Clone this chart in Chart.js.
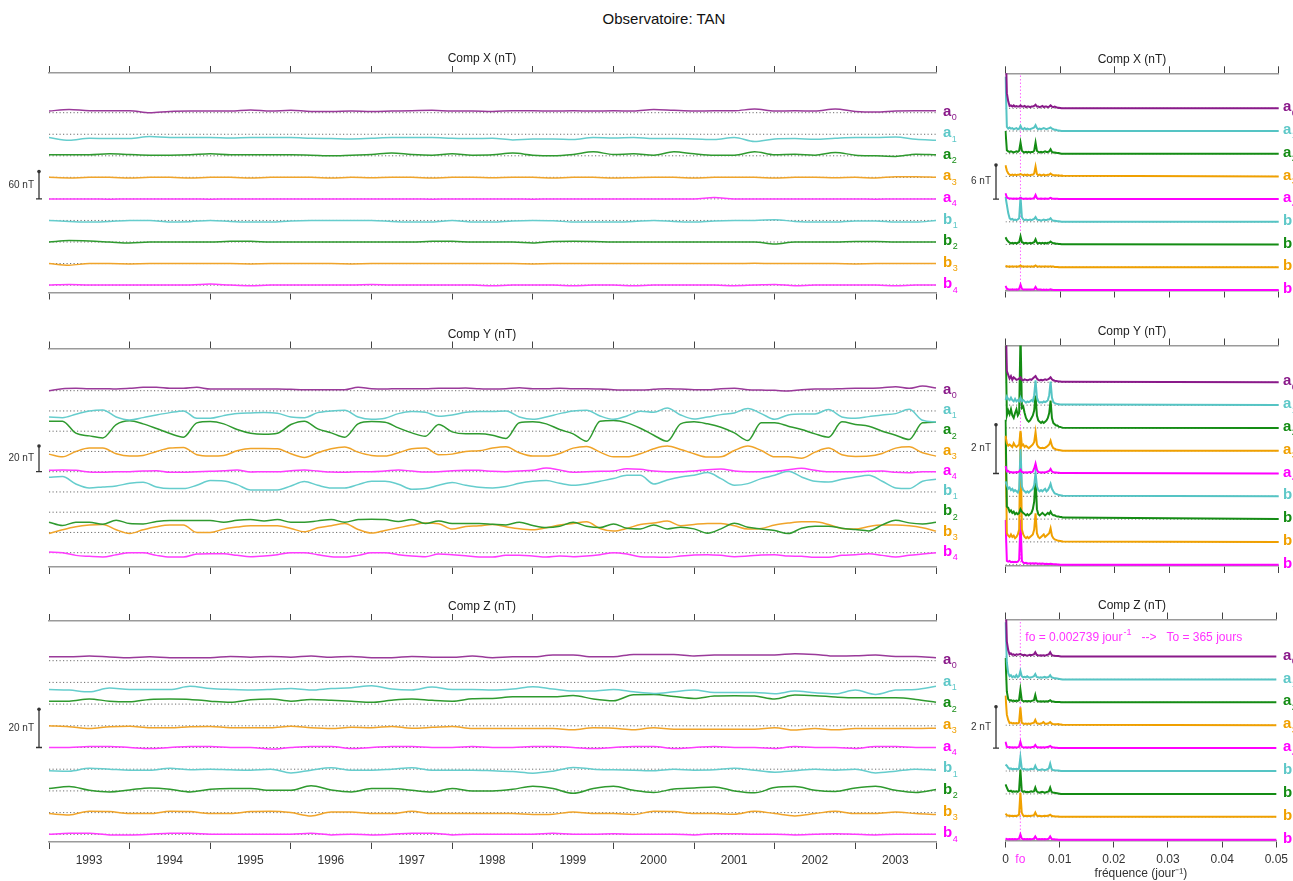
<!DOCTYPE html>
<html>
<head>
<meta charset="utf-8">
<title>Observatoire: TAN</title>
<script src="https://cdn.jsdelivr.net/npm/chart.js@4.4.1/dist/chart.umd.min.js"></script>
<style>
  body { margin: 0; background: #fff; }
  #page { position: relative; width: 1293px; height: 881px; overflow: hidden; }
  #page canvas { position: absolute; left: 0; top: 0; }
  #mainTitle { position: absolute; left: 564px; width: 200px; top: 10px; text-align: center;
    font: 15px "Liberation Sans", Arial, sans-serif; color: #111; }
</style>
</head>
<body>
<div id="page">
  <div id="mainTitle">Observatoire: TAN</div>
  <canvas id="cXt" width="1293" height="881"></canvas>
  <canvas id="cXf" width="1293" height="881"></canvas>
  <canvas id="cYt" width="1293" height="881"></canvas>
  <canvas id="cYf" width="1293" height="881"></canvas>
  <canvas id="cZt" width="1293" height="881"></canvas>
  <canvas id="cZf" width="1293" height="881"></canvas>
</div>
<script>
// ---- time axis (years) and frequency axis (jour^-1) ----
const yearTicks = [1993, 1994, 1995, 1996, 1997, 1998, 1999, 2000, 2001, 2002, 2003, 2004];
const tQ = [1993, 1993.25, 1993.5, 1993.75, 1994, 1994.25, 1994.5, 1994.75, 1995, 1995.25, 1995.5, 1995.75,
  1996, 1996.25, 1996.5, 1996.75, 1997, 1997.25, 1997.5, 1997.75, 1998, 1998.25, 1998.5, 1998.75,
  1999, 1999.25, 1999.5, 1999.75, 2000, 2000.25, 2000.5, 2000.75, 2001, 2001.25, 2001.5, 2001.75,
  2002, 2002.25, 2002.5, 2002.75, 2003, 2003.25, 2003.5, 2003.75, 2004];
const tY = [1993, 1993.167, 1993.333, 1993.5, 1993.667, 1993.833, 1994, 1994.167, 1994.333, 1994.5, 1994.667, 1994.833,
  1995, 1995.167, 1995.333, 1995.5, 1995.667, 1995.833, 1996, 1996.167, 1996.333, 1996.5, 1996.667, 1996.833,
  1997, 1997.167, 1997.333, 1997.5, 1997.667, 1997.833, 1998, 1998.167, 1998.333, 1998.5, 1998.667, 1998.833,
  1999, 1999.167, 1999.333, 1999.5, 1999.667, 1999.833, 2000, 2000.167, 2000.333, 2000.5, 2000.667, 2000.833,
  2001, 2001.167, 2001.333, 2001.5, 2001.667, 2001.833, 2002, 2002.167, 2002.333, 2002.5, 2002.667, 2002.833,
  2003, 2003.167, 2003.333, 2003.5, 2003.667, 2003.833, 2004];
const freqTicks = [0, 0.01, 0.02, 0.03, 0.04, 0.05];
const fo = 0.002739;
const freqs = [0, 0.00025, 0.0005, 0.00075, 0.001, 0.00125, 0.0015, 0.00175, 0.002, 0.00225, 0.0025,
  0.00275, 0.003, 0.00325, 0.0035, 0.00375, 0.004, 0.00425, 0.0045, 0.00475, 0.005, 0.00525,
  0.0055, 0.00575, 0.006, 0.00625, 0.0065, 0.00675, 0.007, 0.00725, 0.0075, 0.00775, 0.008,
  0.00825, 0.0085, 0.00875, 0.009, 0.00925, 0.0095, 0.00975, 0.01, 0.01025, 0.0105, 0.05];

const coefNames = ['a0', 'a1', 'a2', 'a3', 'a4', 'b1', 'b2', 'b3', 'b4'];

// ---- Comp X coefficients (nT), quarterly ----
const compXa0 = [3.5, 7, 4.2, 4.2, 4.2, 0, 2.8, 3.5, 3.5, 3.5, 5.7, 3.5, 5, 2.8, 2.8, 3.5, 2.8, 3.5, 4.2, 5, 3.5, 3.5,
  2.8, 4.2, 4.2, 3.5, 4.2, 3.5, 4.2, 3.5, 7, 5, 3.5, 4.2, 4.2, 7.8, 3.5, 4.2, 3.5, 7.8, 2.8, 1.4, 3.5, 4.2, 4.2];
const compXa1 = [-7, -12.7, -8.5, -9.2, -9.2, -5, -7, -7, -7, -7.8, -7, -7, -7, -8.5, -9.2, -9.9, -8.5, -7, -7, -7, -8.5, -9.2,
  -8.5, -12, -9.9, -9.9, -11.3, -7, -7.8, -7, -9.2, -9.2, -9.9, -11.3, -7, -15.6, -9.9, -9.2, -10.6, -8.5, -7, -7, -5.7, -10.6, -12.7];
const compXa2 = [2.1, 2.1, 2.1, 4.2, 2.8, 1.4, 1.4, 2.1, 4.2, 2.1, 2.1, 2.1, 2.1, 1.4, 0, 1.4, 2.8, 5.7, 2.8, 1.4, 4.2, 1.4,
  2.1, 5.7, 1.4, 0, 2.8, 8.5, 2.8, 4.2, 1.4, 8.5, 4.2, 1.4, 1.4, 8.5, 2.1, 3.5, 1.4, 7, 1.4, 0, -1.4, 3.5, 2.1];
const compXa3 = [0, -1.4, 0, 0, -1.4, 0, 0, -1.4, 0, 0, -1.4, 0, 0, 0, -1.4, 0, -0.7, 0, 0, -1.4, 0, 0,
  -0.7, 0, 0, -1.4, 0, 0, -1.4, -0.7, 0, 0, -1.4, 0, 0, 0, -1.4, 0, 0, -0.7, 0, -1.4, 1.4, 1.4, 0];
const compXa4 = [0, 0, 0, -0.7, 0, 0, 0, 0, -0.7, 0, 0, 0, 0, 0, 0, 0, 0, 0, 0, -0.7, 0, 0,
  0, 0, -0.7, 0, 0, 0, 0, 0, 0, 0, 0, 2.8, 0, 0, 0, 0, 0, 0, 0, -0.7, 0, 0, 0];
const compXb1 = [0, -2, -3.5, -2, 0, 0, -3.5, -2.5, 0, -2, -3.5, -3.5, -1, 0, 0, 0, 0, -2, -3.5, -3.5, 0, -3.5,
  -3.5, -1, 0, -0.5, -3.5, -3.5, -3.5, -2, 0, -2, -3.5, -1, 0, 0, 1.5, -2, -3.5, -3.5, -1, -1, -3.5, -3.5, 0];
const compXb2 = [0, 3, 2, 0, -2, 0, 0, 0, 0, 1.4, 1.4, 0, 0, 0, 0, 0, 0, 0, 0, 1.4, 1.4, 0,
  0, 0, -2, 1, 1.4, 1, 0, 0, 0, 0, 0, 0, 0, 0, -4, 0, 0, 0, 1, 1, 0, 0, 0];
const compXb3 = [0, -3.5, 0, 0, -0.7, 0, 0, 0, 0, 0, -0.7, 0, 0, 0, 0, -0.7, 0, 0, 0, 0, 0, 0,
  0, 0, -0.7, 0, 0, 0, 0, 0, 0, 0, 0, 0, 0, 0.7, 0, 0, 0, 0, -0.7, 0, 0, 0, 0];
const compXb4 = [0, 1.4, 0, 0, 0, 0, 0, 0, 2.1, 0, -1.4, 0, 0, 0, 0, 0, 1.4, 0, 0, 0, 0, 0,
  -1.4, 0, 0, 0, -1.4, 0, 0, -1.4, 0, 0, 0, 0, -1.4, 0, 1.4, -1.4, 0, 0, 0, 0, -1.4, 0, 0];

// ---- Comp Y coefficients (nT), every two months ----
const compYa0 = [0, 1.5, 1.75, 1.5, 1.5, 1.25, 1.75, 2.5, 2.5, 1.75, 1.75, 2.5, 1.25, 1.25, 1.25, 1.25, 1.25, 1.25, 1, 0.75, 0.75, 0.75, 0.75,
  2.5, 1.5, 1.25, 1.5, 1.5, 1.5, 1.75, 1.75, 2, 1.5, 1.25, 1.5, 2.25, 1.5, 1.5, 1.75, 1.5, 1.5, 1.25, 0.75, 0.5, 0.5,
  1, 1.5, 1.25, 0.75, 0.75, 1.5, 1.75, 0.75, 0.5, 0.25, -0.25, 0.75, 1.25, 1.25, 1.5, 1.75, 1.75, 2.25, 3, 1.75, 3.5, 2];
const compYa1 = [-4.5, -5, -2.5, 0, 0.75, -4.5, -6.75, -5, -3, -1.25, 0, -5.5, -5.5, -3.5, -2, -1.5, -1.25, -1.75, -4.5, -5, -1.25, 0, 0.5,
  -4.5, -6.25, -5.5, -2, -0.5, -1, -4, -3, -1, -0.5, -0.5, 0, -4.5, -6.25, -4.5, -2, 0, 0.5, -3.75, -6.25, -3.75, -0.25,
  -1, 2.25, -3, -6, -4.5, -2.75, -1.5, 1.75, -2, -6.25, -3, -2.25, -2.25, 1, -4.5, -5.5, -4.25, -3, -2, 1.25, -7, -8.25];
const compYa2 = [7.5, 7.5, -1.5, -3.5, -5, 5, 7.75, 5.5, 2, -1.75, -4.5, 6.25, 7.25, 5.5, 1.25, -1.5, -2.25, -1.5, 5, 7.5, 1.75, -1.25, -4.5,
  5.5, 7.25, 6.75, 2.5, -1.25, -3.75, 5, -0.5, -2, -2, -3, -5.5, 6.25, 7, 5.5, 1.25, -2, -7.5, 7.5, 8, 6.25, 2.25,
  -3, -7.5, 5.5, 7, 5.5, 3, -1.25, -7, 6.25, 6.25, 3.75, 1.25, -2, -4.5, 7, 5, 3.75, 0, -3, -6.25, 6.25, 6.75];
const compYa3 = [-2, -4, 0, 2.5, 2.5, -1.75, -3.5, -3, 0, 2.5, 3, -2.5, -3.5, -3, 0.5, 2.25, 2.25, 2, -1.75, -4.5, -1, 2, 3.25,
  -0.5, -3, -3.5, -1, 2, 2.5, -2.5, -2, 0, 0.5, 2.5, 3.5, -1, -3.5, -3.5, -1.5, 2.5, 3.75, -0.5, -4, -4, -1.75,
  2, 4, 1.5, -1.75, -4.25, -4, 0.75, 4, 0.75, -4, -4, -5, -0.5, 2.5, -2.5, -3.75, -3.5, -1.5, 2.5, 3.5, -1, -3.5];
const compYa4 = [1, 1.25, 1, -0.25, -0.5, 0, 0, 0.5, 0.75, -0.5, -0.5, 0, 0.25, 0.75, 1.25, -0.25, 0, 0, 0.75, 1.25, 0.5, -0.25, -0.5,
  0, 0, 0.5, 1.25, 0.5, -0.25, 0, 0.75, 1, 1, 0.25, 0, 0.5, 1, 2.75, 1.25, -0.5, 0, 0.25, 0.5, 2.25, 1.75,
  0.5, 0, 0, 0.5, 1.5, 2, 0.5, 0, 0, 0.25, 1.5, 2.5, 1, 0, 0, 0, 0.25, 0.5, -0.5, -0.75, 0, 0];
const compYb1 = [11, 11.5, 6, 3, 3.75, 4.5, 6.5, 7.25, 3.75, 2.5, 2.5, 5, 8.5, 8.25, 5.5, 1.5, 1.5, 1.5, 4.5, 7.75, 5, 3, 3,
  5.5, 8, 8, 5.75, 2, 2.5, 5, 7, 5, 3.5, 3, 4, 6.5, 8, 8.5, 6.5, 5, 6, 8, 10, 12.5, 12.5,
  6, 9, 11.25, 12.5, 14.5, 10, 5, 6.25, 10, 12.5, 15.5, 11.25, 8, 7.5, 9.5, 11.25, 12.5, 8, 3, 2.5, 8, 9.5];
const compYb2 = [-7.5, -10, -7.5, -7.5, -9, -6, -8.5, -8.75, -7, -6.25, -6.25, -6.25, -6.25, -7.5, -6, -5.5, -6.5, -5.5, -7.5, -7.5, -6.5, -5.5, -7.5,
  -5.5, -5.25, -5.5, -7, -5.5, -8.5, -6.5, -8.5, -8.5, -8.5, -9, -9.5, -7.5, -10, -11.5, -10.5, -7.5, -10.5, -11.5, -8.75, -12, -12.5,
  -9.5, -12.5, -11.25, -12.5, -15.75, -12.5, -8.25, -11.25, -12.5, -13.75, -16, -12, -10.5, -10.5, -12, -13, -14, -9.5, -6, -8, -8.75, -7.5];
const compYb3 = [-0.75, 2, 4.25, 5.5, 6, 2, -0.75, 2, 4.25, 5.5, 5.5, 0, 0, 2.5, 4, 5, 5, 5, 3, 0.5, 3.5, 5, 6.75,
  2.25, -0.5, 1.5, 3.5, 5.5, 7, 6.5, 2.5, 4.5, 5, 6, 4.25, 2.75, 2, 3.5, 5.5, 6.75, 8, 3, 1, 3, 6,
  7, 8.5, 5, 6, 6.75, 6.75, 5, 2.5, 3, 5.5, 7, 8, 8, 6, 3, 2.5, 4.5, 5.5, 5.5, 5, 3.5, 1];
const compYb4 = [0.5, 0, -2, -2.75, -3.25, -1.5, 0, 0, -2, -3.25, -3.25, -1, -0.75, -0.75, -2, -3, -2.5, -1.5, 0, 0, -1.5, -3, -3.25,
  -2, 0, 0, -1.5, -2.5, -3, -1, -1.5, -2.25, -3.25, -3.25, -2, -2, -2.5, -3.25, -2.5, -3, -2.5, -1.5, 0, -1, -3,
  -3.25, -3.5, -2.5, -1.75, -1.5, -2, -3, -2.5, -1.75, -1.5, -2.5, -2.75, -3.5, -3.5, -2, -1.5, -0.75, -2, -3.25, -2, -1, 0];

// ---- Comp Z coefficients (nT), quarterly ----
const compZa0 = [2, 2, 2.4, 1.9, 1.5, 2, 1.5, 1.5, 1.5, 2.2, 1.8, 2.2, 1.8, 2.4, 1.7, 2.2, 1.5, 1.5, 2.2, 1.7, 1.7, 2.4,
  1.5, 2, 2, 2.9, 2.9, 2, 2, 3.2, 3.2, 3.2, 2.4, 2.9, 2.9, 2.9, 2.9, 3.6, 3.2, 2.4, 2.5, 2.9, 2.2, 2.2, 1.5];
const compZa1 = [-3.6, -3.9, -4.8, -2.9, -3.6, -3.6, -3.6, -2, -3.1, -3.6, -3.9, -3.6, -3.1, -3.9, -3.1, -2.7, -1.7, -3.4, -3.9, -2.4, -3.6, -3.6,
  -3.9, -3.4, -2.2, -3.4, -4.4, -4.4, -3.6, -4.8, -5.6, -4.8, -3.9, -5.1, -5.1, -5.1, -5.8, -4.4, -5.3, -5.8, -3.9, -6.1, -3.9, -3.6, -2];
const compZa2 = [1.5, 1.5, 2.6, 1.5, 1.2, 2.4, 2.6, 2.4, 1.5, 0.9, 2.2, 2.6, 1.5, 2.4, 2, 1.5, 0.9, 2, 2.6, 1.9, 1.5, 2.7,
  2.9, 3.7, 3.7, 3.7, 4.4, 2.6, 1.7, 4.8, 4.9, 3.9, 2.9, 4.1, 4.3, 4.1, 2.6, 4.6, 4.3, 3.6, 3.2, 3.2, 3.2, 2.4, 0.9];
const compZa3 = [0, -0.5, -1.4, -0.5, -0.2, -1, -1, -0.5, -0.3, -1, -1, -1, -0.2, -1, -1.4, -0.8, -1, -0.3, -1.2, -0.8, -0.3, -1.4,
  -1.4, -1.4, -1.4, -1.4, -2, -1, -1.2, -2, -1, -1.7, -1.7, -1.7, -1.7, -1.7, -1, -2.2, -1.4, -2, -1.4, -1.4, -1.4, -1.4, -1.2];
const compZa4 = [0, 0, 0.5, 0.5, 0, -0.5, 0, 0.5, 0.5, 0, 0, -0.8, 0, 0.5, 0.5, -0.5, 0, 0.5, 0.5, 0, 0, 0.5,
  0, 0, 0.5, 0.5, 0, -0.5, 0, 0.5, 0.5, -0.5, 0, 0.5, 0, 0, -0.5, 0.5, 0, 0, -0.5, 0.5, 0.5, 0, 0];
const compZb1 = [-0.8, -1, 0.5, 0, -0.5, -0.5, 0.5, -0.3, 0, -0.3, -0.5, 0, -1.9, -0.5, 0.7, -0.5, -0.5, 0, 0.7, -0.5, -0.5, -0.5,
  -0.8, -1.2, -2, -1, 0.9, 0, -0.3, -0.5, -0.8, 0, -0.5, -0.3, 0.5, -0.5, -1.5, -0.8, 0, -0.5, 0, -1.9, -1, 0, -0.5];
const compZb2 = [1.2, 2.2, 0.3, -0.5, 0.5, 1.5, 0.9, -0.5, 0.8, 1.2, 1.2, 0.3, 0.3, 2.6, 0.5, -0.5, 1.2, 1.2, 0.3, -0.5, 1.2, 0,
  0, 0.8, 2.4, 1.2, -1.2, 1.2, 2.4, 0.3, -0.8, 1, 1.5, 2, 0, -1, 1.7, 2.2, 0.3, -0.3, 1.5, 2.4, 0.3, -0.8, 0.7];
const compZb3 = [-0.5, -1.2, 0.7, 0.5, -0.5, -0.5, 0.7, 0.5, -0.5, -0.5, 0.5, 0.7, 0, -1.7, 0.3, 0.3, -0.5, -0.5, 0.7, -0.5, -0.5, -0.5,
  -0.5, -0.5, -1, -0.8, 0.3, -0.5, -0.5, -1, 0.7, 0.5, -0.5, -0.5, -0.8, 0.7, -0.5, -1.7, -0.5, 0.7, -0.5, -0.5, 0.3, -0.5, -1];
const compZb4 = [0, 0.5, 0.5, -0.3, -0.3, 0, 0.5, 0.5, 0, 0, 0, 0, 0, 0.5, -0.3, 0, -0.3, 0, 0.5, 0.5, -0.3, 0,
  0, 0, 0, 0.5, 0, 0, 0.3, 0, 0, 0, -0.3, 0.3, 0.3, 0, 0, -0.3, 0, 0.3, 0, -0.3, 0, 0, 0];

// ---- amplitude spectra (nT) on the freqs grid ----
const specXa0 = [12, 2.6, 1.2, 0.4, 0.5, 0.3, 0.5, 0.3, 0.4, 0.3, 0.3, 0.5, 0.3, 0.3, 0.4, 0.2, 0.3, 0.3, 0.2, 0.3, 0.3, 0.4,
  0.6, 0.3, 0.3, 0.2, 0.3, 0.4, 0.2, 0.3, 0.3, 0.2, 0.3, 0.5, 0.3, 0.2, 0.3, 0.2, 0.1, 0.1, 0.05, 0, 0, 0];
const specXa1 = [9.3, 0.7, 0.4, 0.6, 0.4, 0.5, 0.3, 0.4, 0.5, 0.3, 0.4, 0.9, 0.4, 0.3, 0.5, 0.3, 0.4, 0.3, 0.3, 0.4, 0.5, 0.6,
  1.0, 0.5, 0.3, 0.4, 0.3, 0.4, 0.5, 0.4, 0.3, 0.4, 0.5, 0.6, 0.4, 0.3, 0.2, 0.2, 0.1, 0.1, 0.05, 0, 0, 0];
const specXa2 = [3.9, 0.6, 0.4, 0.3, 0.4, 0.3, 0.2, 0.3, 0.4, 0.3, 0.5, 1.9, 0.5, 0.3, 0.2, 0.3, 0.2, 0.3, 0.2, 0.3, 0.3, 0.5,
  1.9, 0.5, 0.3, 0.2, 0.3, 0.2, 0.3, 0.4, 0.3, 0.3, 0.4, 0.75, 0.3, 0.2, 0.2, 0.15, 0.1, 0.1, 0.05, 0, 0, 0];
const specXa3 = [1.9, 1.0, 0.5, 0.3, 0.2, 0.3, 0.2, 0.3, 0.2, 0.3, 0.3, 0.4, 0.3, 0.2, 0.3, 0.2, 0.3, 0.2, 0.2, 0.3, 0.3, 0.5,
  1.7, 0.4, 0.2, 0.3, 0.2, 0.2, 0.3, 0.2, 0.2, 0.3, 0.3, 0.5, 0.3, 0.2, 0.2, 0.2, 0.15, 0.2, 0.1, 0.15, 0.1, 0];
const specXa4 = [1.0, 0.3, 0.15, 0.1, 0.1, 0.05, 0.1, 0.05, 0.1, 0.05, 0.1, 0.2, 0.1, 0.05, 0.05, 0.1, 0.05, 0.05, 0.1, 0.05, 0.1, 0.2,
  0.7, 0.15, 0.05, 0.05, 0.1, 0.05, 0.05, 0.1, 0.05, 0.05, 0.1, 0.2, 0.1, 0.05, 0.05, 0.05, 0.05, 0, 0, 0, 0, 0];
const specXb1 = [4.3, 2.9, 1.5, 0.6, 0.4, 0.5, 0.3, 0.4, 0.3, 0.4, 0.6, 4.3, 0.8, 0.4, 0.3, 0.4, 0.3, 0.3, 0.4, 0.3, 0.4, 0.5,
  0.8, 0.4, 0.3, 0.3, 0.2, 0.3, 0.4, 0.3, 0.3, 0.4, 0.4, 0.6, 0.3, 0.2, 0.2, 0.15, 0.1, 0.1, 0.05, 0, 0, 0];
const specXb2 = [1.25, 0.8, 0.5, 0.3, 0.2, 0.3, 0.2, 0.3, 0.2, 0.3, 0.4, 1.4, 0.4, 0.3, 0.2, 0.3, 0.2, 0.2, 0.3, 0.2, 0.3, 0.4,
  0.9, 0.3, 0.2, 0.3, 0.2, 0.3, 0.2, 0.3, 0.2, 0.3, 0.3, 0.5, 0.3, 0.2, 0.2, 0.15, 0.15, 0.1, 0.1, 0.05, 0.05, 0];
const specXb3 = [0.25, 0.15, 0.1, 0.15, 0.1, 0.15, 0.1, 0.1, 0.15, 0.1, 0.15, 0.3, 0.1, 0.15, 0.1, 0.1, 0.15, 0.1, 0.1, 0.15, 0.1, 0.15,
  0.3, 0.1, 0.1, 0.15, 0.1, 0.1, 0.1, 0.15, 0.1, 0.1, 0.1, 0.15, 0.1, 0.1, 0.05, 0.05, 0.05, 0, 0, 0, 0, 0];
const specXb4 = [0.7, 0.2, 0.1, 0.05, 0.05, 0.1, 0.05, 0.05, 0.1, 0.05, 0.2, 0.9, 0.2, 0.05, 0.05, 0.05, 0.05, 0.05, 0.05, 0.05, 0.05, 0.1,
  0.5, 0.1, 0.05, 0.05, 0.05, 0, 0.05, 0, 0.05, 0, 0.05, 0.1, 0.05, 0, 0, 0, 0, 0, 0, 0, 0, 0];

const specYa0 = [3, 0.45, 0.3, 0.15, 0.25, 0.1, 0.2, 0.15, 0.1, 0.12, 0.15, 0.2, 0.1, 0.08, 0.12, 0.1, 0.08, 0.1, 0.12, 0.1, 0.15, 0.2,
  0.25, 0.15, 0.1, 0.08, 0.1, 0.08, 0.1, 0.12, 0.1, 0.12, 0.15, 0.2, 0.12, 0.08, 0.06, 0.05, 0.04, 0.03, 0.03, 0.02, 0.02, 0];
const specYa1 = [0.2, 0.35, 0.25, 0.2, 0.3, 0.2, 0.15, 0.25, 0.15, 0.2, 0.15, 0.3, 0.15, 0.2, 0.15, 0.1, 0.15, 0.12, 0.15, 0.2, 0.15, 0.4,
  1.0, 0.3, 0.15, 0.1, 0.12, 0.1, 0.15, 0.12, 0.15, 0.2, 0.4, 0.95, 0.3, 0.12, 0.08, 0.06, 0.04, 0.03, 0.02, 0.02, 0.02, 0];
const specYa2 = [4, 0.5, 0.7, 0.55, 0.75, 0.5, 0.4, 0.6, 0.75, 0.5, 0.6, 3.8, 0.8, 0.85, 0.6, 0.4, 0.3, 0.25, 0.3, 0.4, 0.5, 0.7,
  1.3, 0.5, 0.3, 0.25, 0.2, 0.25, 0.2, 0.25, 0.3, 0.4, 0.6, 1.1, 0.4, 0.2, 0.15, 0.1, 0.1, 0.05, 0.04, 0.02, 0.01, 0];
const specYa3 = [0.6, 0.3, 0.2, 0.25, 0.2, 0.15, 0.3, 0.2, 0.15, 0.2, 0.25, 0.8, 0.2, 0.25, 0.15, 0.2, 0.15, 0.1, 0.15, 0.2, 0.25, 0.35,
  0.75, 0.25, 0.15, 0.12, 0.1, 0.12, 0.1, 0.12, 0.15, 0.2, 0.25, 0.4, 0.2, 0.1, 0.08, 0.05, 0.04, 0.03, 0.02, 0.01, 0, 0];
const specYa4 = [0.3, 0.08, 0.1, 0.05, 0.06, 0.04, 0.05, 0.04, 0.06, 0.05, 0.08, 0.15, 0.06, 0.05, 0.04, 0.05, 0.04, 0.05, 0.06, 0.05, 0.08, 0.2,
  0.4, 0.15, 0.06, 0.05, 0.04, 0.05, 0.04, 0.05, 0.06, 0.08, 0.1, 0.18, 0.08, 0.05, 0.04, 0.04, 0.03, 0.03, 0.02, 0.02, 0.02, 0];
const specYb1 = [0.6, 0.45, 0.3, 0.35, 0.25, 0.3, 0.2, 0.25, 0.2, 0.15, 0.3, 1.9, 0.4, 0.25, 0.2, 0.15, 0.2, 0.15, 0.2, 0.25, 0.3, 0.45,
  0.95, 0.4, 0.25, 0.2, 0.25, 0.2, 0.25, 0.3, 0.2, 0.25, 0.35, 0.5, 0.3, 0.2, 0.12, 0.1, 0.08, 0.05, 0.04, 0.03, 0.02, 0];
const specYb2 = [4, 0.5, 0.45, 0.3, 0.35, 0.25, 0.3, 0.2, 0.25, 0.2, 0.25, 0.4, 0.3, 0.25, 0.2, 0.15, 0.2, 0.15, 0.2, 0.25, 0.4, 0.7,
  1.7, 0.4, 0.2, 0.15, 0.2, 0.25, 0.2, 0.15, 0.2, 0.25, 0.2, 0.3, 0.2, 0.15, 0.15, 0.12, 0.1, 0.1, 0.08, 0.08, 0.06, 0];
const specYb3 = [4.2, 0.35, 0.25, 0.2, 0.3, 0.2, 0.25, 0.15, 0.2, 0.3, 0.5, 4.4, 0.5, 0.3, 0.2, 0.15, 0.2, 0.15, 0.2, 0.25, 0.3, 0.5,
  1.15, 0.35, 0.2, 0.15, 0.2, 0.25, 0.3, 0.2, 0.25, 0.3, 0.35, 0.55, 0.25, 0.15, 0.1, 0.08, 0.06, 0.05, 0.04, 0.03, 0.02, 0];
const specYb4 = [1.8, 0.15, 0.12, 0.15, 0.1, 0.12, 0.1, 0.12, 0.1, 0.12, 0.2, 1.8, 0.15, 0.08, 0.06, 0.08, 0.06, 0.05, 0.06, 0.05, 0.06, 0.05,
  0.06, 0.05, 0.04, 0.05, 0.04, 0.05, 0.04, 0.03, 0.04, 0.03, 0.03, 0.04, 0.03, 0.02, 0.02, 0.02, 0.01, 0.01, 0, 0, 0, 0];

const specZa0 = [3, 0.7, 0.3, 0.1, 0.15, 0.08, 0.1, 0.06, 0.1, 0.08, 0.1, 0.12, 0.08, 0.06, 0.08, 0.06, 0.05, 0.06, 0.08, 0.06, 0.08, 0.1,
  0.2, 0.08, 0.06, 0.05, 0.06, 0.05, 0.06, 0.05, 0.06, 0.08, 0.1, 0.2, 0.08, 0.05, 0.04, 0.03, 0.02, 0.02, 0.01, 0, 0, 0];
const specZa1 = [2.7, 0.8, 0.3, 0.15, 0.2, 0.1, 0.15, 0.1, 0.2, 0.1, 0.15, 0.4, 0.15, 0.1, 0.12, 0.1, 0.15, 0.1, 0.08, 0.1, 0.12, 0.15,
  0.25, 0.12, 0.1, 0.08, 0.1, 0.08, 0.1, 0.12, 0.08, 0.1, 0.12, 0.2, 0.1, 0.08, 0.06, 0.05, 0.04, 0.03, 0.02, 0.01, 0, 0];
const specZa2 = [2.1, 0.5, 0.15, 0.08, 0.1, 0.06, 0.08, 0.05, 0.08, 0.06, 0.1, 0.6, 0.1, 0.06, 0.05, 0.06, 0.05, 0.06, 0.05, 0.06, 0.08, 0.1,
  0.35, 0.08, 0.05, 0.04, 0.05, 0.04, 0.05, 0.04, 0.05, 0.04, 0.06, 0.1, 0.05, 0.04, 0.03, 0.02, 0.02, 0.01, 0.01, 0, 0, 0];
const specZa3 = [1.4, 0.5, 0.25, 0.1, 0.12, 0.08, 0.1, 0.08, 0.1, 0.08, 0.12, 0.85, 0.12, 0.08, 0.06, 0.08, 0.06, 0.08, 0.06, 0.08, 0.1, 0.12,
  0.25, 0.1, 0.08, 0.06, 0.08, 0.1, 0.15, 0.08, 0.06, 0.08, 0.1, 0.15, 0.08, 0.06, 0.05, 0.05, 0.04, 0.05, 0.03, 0.03, 0.02, 0];
const specZa4 = [0.3, 0.06, 0.04, 0.05, 0.03, 0.04, 0.03, 0.04, 0.03, 0.04, 0.06, 0.3, 0.06, 0.04, 0.03, 0.04, 0.03, 0.04, 0.03, 0.04, 0.05, 0.06,
  0.15, 0.05, 0.04, 0.03, 0.04, 0.03, 0.04, 0.03, 0.04, 0.05, 0.06, 0.1, 0.05, 0.03, 0.03, 0.02, 0.02, 0.01, 0, 0, 0, 0];
const specZb1 = [0.3, 0.25, 0.15, 0.1, 0.12, 0.08, 0.1, 0.08, 0.1, 0.08, 0.12, 0.65, 0.12, 0.08, 0.1, 0.06, 0.08, 0.06, 0.08, 0.1, 0.08, 0.1,
  0.25, 0.1, 0.06, 0.05, 0.06, 0.08, 0.06, 0.05, 0.06, 0.08, 0.12, 0.35, 0.1, 0.05, 0.04, 0.03, 0.02, 0.02, 0.01, 0, 0, 0];
const specZb2 = [0.45, 0.3, 0.15, 0.12, 0.15, 0.1, 0.12, 0.1, 0.12, 0.1, 0.15, 1.15, 0.15, 0.1, 0.12, 0.08, 0.1, 0.08, 0.1, 0.12, 0.1, 0.12,
  0.3, 0.12, 0.08, 0.06, 0.08, 0.1, 0.08, 0.06, 0.08, 0.1, 0.12, 0.3, 0.1, 0.06, 0.05, 0.04, 0.03, 0.02, 0.01, 0, 0, 0];
const specZb3 = [0.15, 0.08, 0.05, 0.06, 0.04, 0.05, 0.04, 0.05, 0.04, 0.06, 0.1, 1.15, 0.2, 0.06, 0.04, 0.05, 0.04, 0.05, 0.04, 0.05, 0.06, 0.08,
  0.2, 0.06, 0.04, 0.05, 0.04, 0.03, 0.04, 0.05, 0.04, 0.05, 0.06, 0.1, 0.05, 0.03, 0.03, 0.02, 0.02, 0.01, 0, 0, 0, 0];
const specZb4 = [0.05, 0.03, 0.02, 0.03, 0.02, 0.03, 0.02, 0.03, 0.02, 0.03, 0.05, 0.25, 0.05, 0.02, 0.03, 0.02, 0.03, 0.02, 0.03, 0.02, 0.03, 0.05,
  0.15, 0.04, 0.02, 0.03, 0.02, 0.03, 0.02, 0.03, 0.02, 0.03, 0.05, 0.15, 0.04, 0.02, 0.02, 0.01, 0.01, 0, 0, 0, 0, 0];

// ---- styling ----
const FONT = '"Liberation Sans", Arial, sans-serif';
const timeColors = ['#9a3a9a', '#66cdcd', '#2f9a2f', '#f0a42a', '#ff3cff', '#66cdcd', '#2f9a2f', '#f0a42a', '#ff3cff'];
const specColors = ['#8a1a8a', '#55c4c4', '#148c14', '#f0a000', '#ff00ff', '#55c4c4', '#148c14', '#f0a000', '#ff00ff'];
const nameColors = ['#8a1a8a', '#5ec8c8', '#148c14', '#f0a000', '#ff00ff', '#5ec8c8', '#148c14', '#f0a000', '#ff00ff'];

Chart.defaults.font.family = FONT;
Chart.defaults.font.size = 12;
Chart.defaults.color = '#333';

// titles, coefficient names, scale bar and the fo note
const panelDecor = {
  id: 'panelDecor',
  afterDraw(chart, args, o) {
    const ctx = chart.ctx;
    const area = chart.chartArea;
    ctx.save();
    ctx.textBaseline = 'middle';
    ctx.fillStyle = '#222';
    ctx.font = '12px ' + FONT;
    ctx.textAlign = 'center';
    ctx.fillText(o.title, o.titleX, area.top - 14);

    coefNames.forEach((n, i) => {
      const y = chart.scales['y' + i].getPixelForValue(0);
      ctx.fillStyle = nameColors[i];
      ctx.textAlign = 'left';
      ctx.font = 'bold 15px ' + FONT;
      ctx.fillText(n[0], o.nameX, y - 1);
      const w = ctx.measureText(n[0]).width;
      ctx.font = '9px ' + FONT;
      ctx.fillText(n[1], o.nameX + w + 0.5, y + 5);
    });

    const ys = chart.scales.y4;
    const yb = ys.getPixelForValue(0);
    const yt = ys.getPixelForValue(o.bar.value);
    ctx.strokeStyle = '#333';
    ctx.fillStyle = '#333';
    ctx.lineWidth = 1.3;
    ctx.beginPath();
    ctx.moveTo(o.bar.x, yb); ctx.lineTo(o.bar.x, yt);
    ctx.moveTo(o.bar.x - 3, yb); ctx.lineTo(o.bar.x + 3, yb);
    ctx.stroke();
    ctx.beginPath();
    ctx.arc(o.bar.x, yt + 1, 1.8, 0, Math.PI * 2);
    ctx.fill();
    ctx.font = '10px ' + FONT;
    ctx.textAlign = 'right';
    ctx.fillText(o.bar.text, o.bar.x - 5, (yb + yt) / 2);

    if (o.note) {
      let x = chart.scales.x.getPixelForValue(fo) + 5;
      const y = area.top + 18;
      ctx.fillStyle = '#ff33ff';
      ctx.textAlign = 'left';
      ctx.font = '12px ' + FONT;
      ctx.fillText('fo = 0.002739 jour', x, y);
      x += ctx.measureText('fo = 0.002739 jour').width + 1;
      ctx.font = '9px ' + FONT;
      ctx.fillText('-1', x, y - 5);
      x += ctx.measureText('-1').width;
      ctx.font = '12px ' + FONT;
      ctx.fillText('   -->   To = 365 jours', x, y);
    }
    ctx.restore();
  }
};

function xAxis(position, min, max, tickValues, opt) {
  return {
    type: 'linear', position, min, max,
    afterBuildTicks: s => { s.ticks = tickValues.map(v => ({ value: v })); },
    afterFit: s => { s.height = opt.height; },
    grid: {
      drawOnChartArea: false, drawTicks: true, tickLength: 7, lineWidth: 1,
      tickColor: ctx => (ctx.tick && ctx.tick.value === fo) ? 'rgba(0,0,0,0)' : '#444'
    },
    border: { display: true, color: '#9a9a9a', width: 1.5 },
    ticks: {
      autoSkip: false, maxRotation: 0, padding: opt.pad || 2, labelOffset: opt.labelOffset || 0,
      color: ctx => (ctx.tick && ctx.tick.value === fo) ? '#ff33ff' : '#333',
      font: { size: 12 },
      callback: opt.label || (() => '')
    },
    title: opt.title
      ? { display: true, text: opt.title, padding: { top: 0, bottom: 0 }, font: { size: 12 }, color: '#333' }
      : { display: false }
  };
}

function buildPanel(canvasId, p) {
  const g = p.geo;
  const scales = {};
  const spec = p.kind === 'spec';
  const xmin = spec ? 0 : 1993;
  const xmax = spec ? 0.05 : 2004;
  const bottomTicks = spec ? [0, fo, 0.01, 0.02, 0.03, 0.04, 0.05] : yearTicks;
  const topTicks = spec ? freqTicks : yearTicks;
  let label = null;
  if (p.labels && spec) label = v => (v === 0 ? '0' : v === fo ? 'fo' : v.toFixed(2));
  if (p.labels && !spec) label = v => (v < 2004 ? String(v) : '');

  scales.x = xAxis('bottom', xmin, xmax, bottomTicks, {
    height: p.bottomH, pad: p.labelPad, labelOffset: spec ? 0 : 40,
    label, title: p.xTitle
  });
  scales.xTop = xAxis('top', xmin, xmax, topTicks, { height: 8 });
  for (let i = 0; i < 9; i++) {
    const base = g.base0 + i * g.step;
    scales['y' + i] = { display: false, min: -(g.bottom - base) / g.k, max: (base - g.top) / g.k };
  }

  const datasets = [];
  coefNames.forEach((n, i) => {
    datasets.push({
      label: n + ' zero', xAxisID: 'x', yAxisID: 'y' + i, order: 3,
      data: [{ x: xmin, y: 0 }, { x: xmax, y: 0 }],
      borderColor: '#6e6e6e', borderWidth: 1, borderDash: [1.2, 2.3], pointRadius: 0
    });
  });
  if (spec) {
    const ys = scales.y0;
    datasets.push({
      label: 'fo', xAxisID: 'x', yAxisID: 'y0', order: 2,
      data: [{ x: fo, y: ys.min }, { x: fo, y: ys.max }],
      borderColor: '#ff66ff', borderWidth: 1, borderDash: [1.5, 2], pointRadius: 0
    });
  }
  p.series.forEach((vals, i) => {
    datasets.push({
      label: coefNames[i], xAxisID: 'x', yAxisID: 'y' + i, order: 0,
      data: vals.map((v, j) => ({ x: p.t[j], y: v })),
      borderColor: spec ? specColors[i] : timeColors[i],
      borderWidth: spec ? 2 : 1.5,
      pointRadius: 0,
      tension: 0,
      cubicInterpolationMode: spec ? 'default' : 'monotone',
      clip: { left: 1, right: 1, top: 0, bottom: 3 }
    });
  });

  return new Chart(document.getElementById(canvasId), {
    type: 'line',
    data: { datasets },
    options: {
      responsive: false, animation: false, devicePixelRatio: 1, events: [],
      layout: { padding: { left: p.left, right: 1293 - p.right, top: g.top - 8, bottom: 881 - g.bottom - p.bottomH } },
      scales,
      plugins: {
        legend: { display: false }, tooltip: { enabled: false },
        panelDecor: { title: p.title, titleX: p.titleX, nameX: p.nameX, bar: p.bar, note: p.note }
      }
    },
    plugins: [panelDecor]
  });
}

const timeSide = { kind: 'time', left: 49, right: 936, titleX: 482, nameX: 943 };
const specSide = { kind: 'spec', left: 1005.5, right: 1278.7, titleX: 1132, nameX: 1283, t: freqs };

buildPanel('cXt', Object.assign({}, timeSide, {
  title: 'Comp X (nT)', t: tQ, bottomH: 8,
  geo: { top: 73, bottom: 292.5, base0: 112.7, step: 21.55, k: 28.3 / 60 },
  bar: { value: 60, text: '60 nT', x: 39 },
  series: [compXa0, compXa1, compXa2, compXa3, compXa4, compXb1, compXb2, compXb3, compXb4]
}));
buildPanel('cXf', Object.assign({}, specSide, {
  title: 'Comp X (nT)', bottomH: 8,
  geo: { top: 73.3, bottom: 290.5, base0: 108.3, step: 22.7, k: 35 / 6 },
  bar: { value: 6, text: '6 nT', x: 996 },
  series: [specXa0, specXa1, specXa2, specXa3, specXa4, specXb1, specXb2, specXb3, specXb4]
}));
buildPanel('cYt', Object.assign({}, timeSide, {
  title: 'Comp Y (nT)', t: tY, bottomH: 8,
  geo: { top: 348.5, bottom: 567, base0: 390.7, step: 20.25, k: 26.7 / 20 },
  bar: { value: 20, text: '20 nT', x: 39 },
  series: [compYa0, compYa1, compYa2, compYa3, compYa4, compYb1, compYb2, compYb3, compYb4]
}));
buildPanel('cYf', Object.assign({}, specSide, {
  title: 'Comp Y (nT)', bottomH: 8,
  geo: { top: 345.5, bottom: 566, base0: 382.3, step: 22.8, k: 49.7 / 2 },
  bar: { value: 2, text: '2 nT', x: 996 },
  series: [specYa0, specYa1, specYa2, specYa3, specYa4, specYb1, specYb2, specYb3, specYb4]
}));
buildPanel('cZt', Object.assign({}, timeSide, {
  title: 'Comp Z (nT)', t: tQ, bottomH: 30, labels: true, labelPad: 4,
  geo: { top: 621, bottom: 842, base0: 660.7, step: 21.7, k: 39.3 / 20 },
  bar: { value: 20, text: '20 nT', x: 39 },
  series: [compZa0, compZa1, compZa2, compZa3, compZa4, compZb1, compZb2, compZb3, compZb4]
}));
buildPanel('cZf', Object.assign({}, specSide, {
  title: 'Comp Z (nT)', bottomH: 40, labels: true, labelPad: 5, xTitle: 'fréquence (jour⁻¹)', note: true,
  geo: { top: 619.5, bottom: 840.5, base0: 656.5, step: 22.9, k: 42.3 / 2 },
  bar: { value: 2, text: '2 nT', x: 996 },
  series: [specZa0, specZa1, specZa2, specZa3, specZa4, specZb1, specZb2, specZb3, specZb4]
}));
</script>
</body>
</html>
